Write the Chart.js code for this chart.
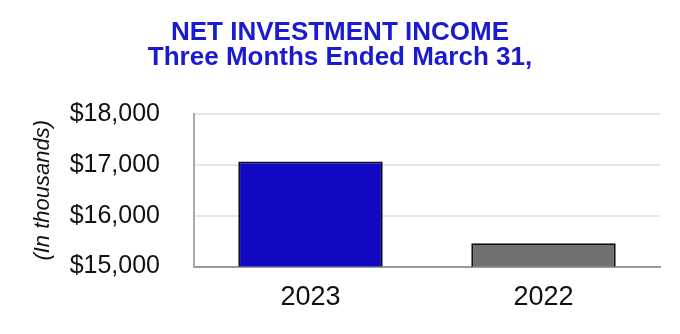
<!DOCTYPE html>
<html>
<head>
<meta charset="utf-8">
<script src="https://cdn.jsdelivr.net/npm/chart.js@4/dist/chart.umd.min.js"></script>
<style>
  html, body { margin: 0; padding: 0; background: #fff; }
  #wrap { width: 680px; height: 334px; position: relative; }
</style>
</head>
<body>
<div id="wrap"><canvas id="chart"></canvas></div>
<script>
const categories = ['2023', '2022'];
const netInvestmentIncome = [17065, 15460];
const barColors = ['#1208C4', '#707070'];
const titleLines = ['NET INVESTMENT INCOME', 'Three Months Ended March 31,'];
const yTicks = [15000, 16000, 17000, 18000];

const fmt = v => '$' + new Intl.NumberFormat('en-US').format(v);
const FONT = '"Liberation Sans", Arial, sans-serif';

new Chart(document.getElementById('chart'), {
    type: 'bar',
    data: {
        labels: categories,
        datasets: [{
            data: netInvestmentIncome,
            backgroundColor: barColors,
            borderColor: '#111',
            borderWidth: 1.8,
            barPercentage: 0.62,
            categoryPercentage: 1
        }]
    },
    options: {
        responsive: true,
        maintainAspectRatio: false,
        animation: false,
        layout: { padding: { left: 20, right: 20, top: 7, bottom: 5 } },
        plugins: {
            legend: { display: false },
            tooltip: { enabled: false },
            title: {
                display: true,
                text: titleLines,
                color: '#1a1ad0',
                font: { family: FONT, size: 26, weight: 'bold', lineHeight: 0.98 },
                padding: { top: 13, bottom: 43 }
            }
        },
        scales: {
            x: {
                grid: { display: false, drawTicks: false },
                border: { color: '#999', width: 2 },
                ticks: {
                    color: '#111',
                    padding: 15,
                    font: { family: FONT, size: 27 }
                }
            },
            y: {
                min: 15000,
                max: 18000,
                afterBuildTicks: s => { s.ticks = yTicks.map(v => ({ value: v })); },
                afterFit: s => { s.width = 174; },
                grid: { color: '#e6e6e6', lineWidth: 2, drawTicks: false },
                border: { color: '#aaa', width: 2 },
                title: {
                    display: true,
                    text: '(In thousands)',
                    color: '#111',
                    font: { family: FONT, size: 22, style: 'italic' },
                    padding: { top: 10, bottom: 4 }
                },
                ticks: {
                    color: '#111',
                    padding: 34,
                    callback: v => fmt(v),
                    font: { family: FONT, size: 25 }
                }
            }
        }
    }
});
</script>
</body>
</html>
